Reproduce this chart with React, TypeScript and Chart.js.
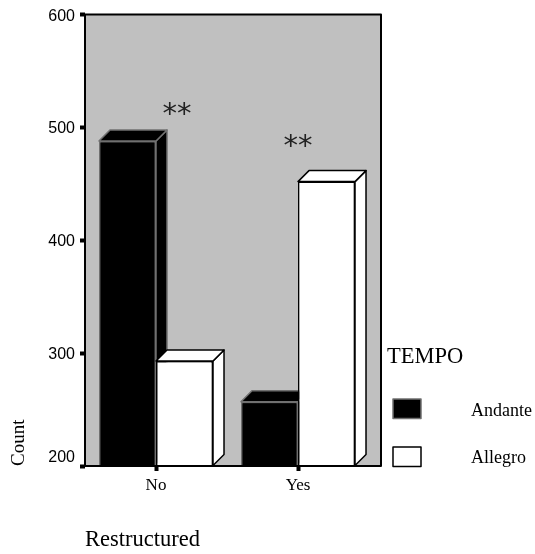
import React, { useEffect, useRef } from "react";
import { Chart, registerables } from "chart.js";

Chart.register(...registerables);

const categories = ["No", "Yes"];
const andante = [488, 257];
const allegro = [293, 452];
const seriesNames = ["Andante", "Allegro"];
const legendTitle = "TEMPO";
const significance = ["**", "**"];
const significanceLevel = [510, 481];
const yTicks = [200, 300, 400, 500, 600];
const baseValue = 200;

const SERIF = '"Liberation Serif"';
const DEPTH = 11;

const bar3d = {
  id: "bar3d",
  beforeDatasetsDraw(chart: any) {
    const { ctx, chartArea: a } = chart;
    ctx.save();
    ctx.fillStyle = "#c0c0c0";
    ctx.fillRect(a.left, a.top, a.right + DEPTH + 1 - a.left, a.bottom - a.top);
    ctx.restore();
  },
  afterDatasetsDraw(chart: any) {
    const { ctx, chartArea: a, scales } = chart;
    ctx.save();
    chart.data.datasets.forEach((ds: any, i: number) => {
      chart.getDatasetMeta(i).data.forEach((bar: any) => {
        const p = bar.getProps(["x", "y", "base", "width"], true);
        const l = p.x - p.width / 2;
        const r = p.x + p.width / 2;
        ctx.fillStyle = ds.backgroundColor;
        ctx.strokeStyle = ds.borderColor;
        ctx.lineWidth = 1.5;
        ctx.lineJoin = "round";
        ctx.beginPath();
        ctx.moveTo(r, p.y);
        ctx.lineTo(r + DEPTH, p.y - DEPTH);
        ctx.lineTo(r + DEPTH, p.base - DEPTH);
        ctx.lineTo(r, p.base);
        ctx.closePath();
        ctx.fill();
        ctx.stroke();
        ctx.beginPath();
        ctx.moveTo(l, p.y);
        ctx.lineTo(l + DEPTH, p.y - DEPTH);
        ctx.lineTo(r + DEPTH, p.y - DEPTH);
        ctx.lineTo(r, p.y);
        ctx.closePath();
        ctx.fill();
        ctx.stroke();
        bar.draw(ctx);
      });
    });
    // frame
    ctx.strokeStyle = "#000";
    ctx.lineWidth = 2;
    ctx.strokeRect(a.left, a.top, a.right + DEPTH + 1 - a.left, a.bottom - a.top);

    // significance marks
    ctx.fillStyle = "#222";
    ctx.font = `29px "DejaVu Sans"`;
    ctx.textAlign = "center";
    ctx.textBaseline = "middle";
    const marksX = [scales.x.getPixelForValue(0) + 21, scales.x.getPixelForValue(1)];
    significance.forEach((s, i) => {
      ctx.fillText(s, marksX[i], scales.y.getPixelForValue(significanceLevel[i]) - 1);
    });

    // legend
    const lx = 393;
    ctx.fillStyle = "#000";
    ctx.textAlign = "left";
    ctx.textBaseline = "alphabetic";
    ctx.font = `22.5px ${SERIF}`;
    ctx.fillText(legendTitle, 387, 363);
    const rows = [399, 447];
    const baselines = [416, 463];
    seriesNames.forEach((name, i) => {
      const ds = chart.data.datasets[i];
      ctx.fillStyle = ds.backgroundColor;
      ctx.strokeStyle = ds.borderColor;
      ctx.lineWidth = 1.5;
      ctx.fillRect(lx, rows[i], 28, 19.5);
      ctx.strokeRect(lx, rows[i], 28, 19.5);
      ctx.fillStyle = "#000";
      ctx.font = `18px ${SERIF}`;
      ctx.fillText(name, 471, baselines[i]);
    });
    ctx.restore();
  },
};

export default function App() {
  const ref = useRef<HTMLCanvasElement>(null);
  useEffect(() => {
    const chart = new Chart(ref.current!, {
      type: "bar",
      data: {
        labels: categories,
        datasets: [
          { label: seriesNames[0], data: andante, base: baseValue, backgroundColor: "#000000", borderColor: "#707070", borderWidth: 1.5 },
          { label: seriesNames[1], data: allegro, base: baseValue, backgroundColor: "#ffffff", borderColor: "#000000", borderWidth: 1.5 },
        ],
      },
      options: {
        responsive: false,
        animation: false,
        layout: { padding: { left: 0, top: 14, right: 166, bottom: 0 } },
        plugins: { legend: { display: false }, title: { display: false }, tooltip: { enabled: false } },
        datasets: { bar: { barPercentage: 1, categoryPercentage: 0.803 } },
        scales: {
          x: {
            type: "category",
            afterFit(s: any) { s.height = 88; },
            border: { display: false },
            grid: { offset: false, drawOnChartArea: false, drawTicks: true, tickLength: 5, tickWidth: 4, tickColor: "#000" },
            ticks: { color: "#000", font: { family: SERIF, size: 17 }, padding: 4, maxRotation: 0 },
            title: {
              display: true, text: "Restructured", align: "start", color: "#000",
              font: { family: SERIF, size: 22.5 }, padding: { top: 35, bottom: 0 },
            },
          },
          y: {
            type: "linear",
            min: 200,
            max: 600,
            afterFit(s: any) { s.width = 85; },
            afterBuildTicks(s: any) { s.ticks = yTicks.map((value) => ({ value })); },
            border: { display: false },
            grid: { drawOnChartArea: false, drawTicks: true, tickLength: 5, tickWidth: 4, tickColor: "#000" },
            ticks: {
              color: "#000",
              font: { family: '"Liberation Sans"', size: 16 },
              padding: 5,
              labelOffset: 1.5,
              callback: (v: any) => (v === baseValue ? [String(v), ""] : String(v)),
            },
            title: {
              display: true, text: "Count", align: "start", color: "#000",
              font: { family: SERIF, size: 19 }, padding: { top: 8, bottom: 0 },
            },
          },
        },
      },
      plugins: [bar3d],
    } as any);
    return () => chart.destroy();
  }, []);
  return (
    <canvas
      ref={ref}
      width={535}
      height={554}
      style={{ position: "fixed", left: 0, top: 0, width: 535, height: 554 }}
    />
  );
}
